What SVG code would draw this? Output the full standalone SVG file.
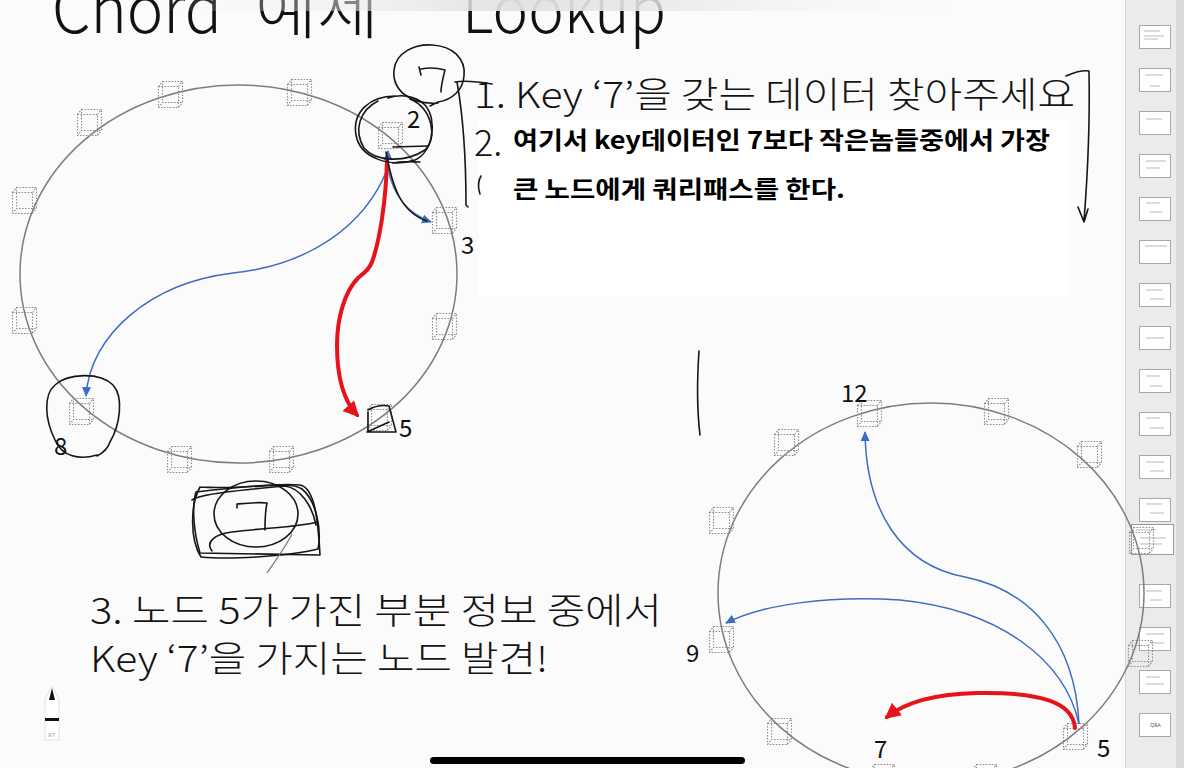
<svg xmlns="http://www.w3.org/2000/svg" width="1184" height="768" viewBox="0 0 1184 768">
<defs>
<style>
.ring{fill:none;stroke:#7d7d7d;stroke-width:1.5}
.cb{fill:none;stroke:#8e8e8e;stroke-width:1.1;stroke-dasharray:1.6 1.4}
.lbl{font-family:"Noto Sans CJK KR","Noto Sans",sans-serif;font-size:24px;fill:#111;font-weight:400}
.blue{fill:none;stroke:#3d6cc0;stroke-width:1.5}
.red{fill:none;stroke:#e8121b;stroke-width:4;stroke-linecap:round}
.ink{fill:none;stroke:#161616;stroke-width:1.6;stroke-linecap:round;stroke-linejoin:round}
.t36{font-family:"Noto Sans CJK KR","Noto Sans",sans-serif;font-size:36px;fill:#141414;font-weight:300}
.tb{font-family:"Noto Sans CJK KR","Noto Sans",sans-serif;font-size:24px;font-weight:700;fill:#000}
.title{font-family:"Noto Sans CJK KR","Noto Sans",sans-serif;font-size:66px;fill:#111;font-weight:300}
.thumb{fill:#fff;stroke:#a8a8a8;stroke-width:1}
.tl{stroke:#b9b9b9;stroke-width:1}
</style>
<linearGradient id="topband" x1="0" x2="1" y1="0" y2="0">
<stop offset="0" stop-color="#f4f4f4" stop-opacity="0"/>
<stop offset="0.45" stop-color="#e2e2e2" stop-opacity="0.95"/>
<stop offset="0.6" stop-color="#e6e6e6" stop-opacity="0.9"/>
<stop offset="1" stop-color="#f4f4f4" stop-opacity="0"/>
</linearGradient>
<symbol id="cube" width="26" height="27" viewBox="0 0 26 27" overflow="visible">
<path class="cb" d="M0.5,5.5h20v21h-20z M4.5,0.5h20v21h-20z M0.5,5.5l4,-5 M20.5,5.5l4,-5 M20.5,26.5l4,-5 M0.5,26.5l4,-5"/>
</symbol>
<marker id="ab" viewBox="0 0 10 10" refX="9" refY="5" markerWidth="10" markerHeight="10" markerUnits="userSpaceOnUse" orient="auto">
<path d="M0,0.5 L10,5 L0,9.5z" fill="#3d6cc0"/>
</marker>
<marker id="ar" viewBox="0 0 10 10" refX="8" refY="5" markerWidth="16" markerHeight="16" markerUnits="userSpaceOnUse" orient="auto">
<path d="M0,0 L10,5 L0,10z" fill="#e8121b"/>
</marker>
</defs>

<rect width="1184" height="768" fill="#fbfbfb"/>

<!-- sidebar -->
<g id="sidebar">
<rect x="1125" y="0" width="59" height="768" fill="#ebebeb"/>
<line x1="1125.5" y1="0" x2="1125.5" y2="768" stroke="#d6d6d6"/>
<rect x="1176" y="0" width="8" height="768" fill="#d9d9d9"/>
<g>
<rect class="thumb" x="1139.5" y="25.5" width="31" height="23"/>
<rect class="thumb" x="1139.5" y="68.5" width="31" height="23"/>
<rect class="thumb" x="1139.5" y="111.5" width="31" height="23"/>
<rect class="thumb" x="1139.5" y="154.5" width="31" height="23"/>
<rect class="thumb" x="1139.5" y="197.5" width="31" height="23"/>
<rect class="thumb" x="1139.5" y="240.5" width="31" height="23"/>
<rect class="thumb" x="1139.5" y="283.5" width="31" height="23"/>
<rect class="thumb" x="1139.5" y="326.5" width="31" height="23"/>
<rect class="thumb" x="1139.5" y="369.5" width="31" height="23"/>
<rect class="thumb" x="1139.5" y="412.5" width="31" height="23"/>
<rect class="thumb" x="1139.5" y="455.5" width="31" height="23"/>
<rect class="thumb" x="1139.5" y="498.5" width="31" height="23"/>
<rect class="thumb" x="1139.5" y="584.5" width="31" height="23"/>
<rect class="thumb" x="1139.5" y="627.5" width="31" height="23"/>
<rect class="thumb" x="1139.5" y="670.5" width="31" height="23"/>
<rect class="thumb" x="1139.5" y="713.5" width="31" height="23"/>
<rect x="1131.5" y="524.5" width="42" height="30" fill="#fff" stroke="#9a9a9a"/>
<path class="tl" d="M1144,31h16 M1144,36h20 M1144,39h14 M1145,75h18 M1150,86h10 M1146,119h16 M1146,161h20 M1146,168h14 M1146,203h14 M1150,212h12 M1145,246h22 M1146,290h16 M1150,299h14 M1146,338h18 M1146,376h14 M1150,386h12 M1146,418h14 M1150,428h14 M1146,462h18 M1150,471h14 M1146,504h16 M1150,513h14 M1136,530h20 M1140,538h26 M1140,544h22 M1146,591h16 M1150,600h12 M1146,634h18 M1150,643h14 M1146,677h14 M1146,684h18"/>
<text x="1150" y="727" font-family="Noto Sans, sans-serif" font-size="5" fill="#555">Q&amp;A</text>
</g>
</g>

<!-- title (cropped at top) -->
<g id="title">
<text class="title" x="52" y="33" textLength="170" lengthAdjust="spacingAndGlyphs">Chord</text>
<text class="title" x="255" y="33" textLength="124" lengthAdjust="spacingAndGlyphs">예제</text>
<text class="title" x="462" y="33" textLength="204" lengthAdjust="spacingAndGlyphs">Lookup</text>
</g>
<rect x="150" y="0" width="800" height="11" fill="url(#topband)"/>

<!-- white text box -->
<rect x="479" y="120" width="589" height="176" fill="#ffffff"/>

<!-- ring 1 -->
<g id="ring-top">
<ellipse class="ring" cx="238.5" cy="274" rx="218.5" ry="189"/>
<g id="n-a"><use href="#cube" x="158" y="81"/></g>
<g id="n-b"><use href="#cube" x="287" y="79"/></g>
<g id="n-c"><use href="#cube" x="77" y="109"/></g>
<g id="node-2"><use href="#cube" x="378" y="122"/><text class="lbl" x="407" y="128">2</text></g>
<g id="n-d"><use href="#cube" x="12" y="187"/></g>
<g id="node-3"><use href="#cube" x="432" y="207"/><text class="lbl" x="461" y="254">3</text></g>
<g id="n-e"><use href="#cube" x="12" y="307"/></g>
<g id="n-f"><use href="#cube" x="432" y="313"/></g>
<g id="node-8"><use href="#cube" x="69" y="398"/><text class="lbl" x="54" y="455">8</text></g>
<g id="node-5a"><use href="#cube" x="367" y="404"/><text class="lbl" x="399" y="437">5</text></g>
<g id="n-g"><use href="#cube" x="167" y="446"/></g>
<g id="n-h"><use href="#cube" x="269" y="446"/></g>
</g>

<!-- ring 2 -->
<g id="ring-bottom">
<ellipse class="ring" cx="931" cy="593" rx="213" ry="190"/>
<g id="node-12"><use href="#cube" x="857" y="400"/><text class="lbl" x="841" y="402">12</text></g>
<g id="n-i"><use href="#cube" x="984" y="398"/></g>
<g id="n-j"><use href="#cube" x="774" y="429"/></g>
<g id="n-k"><use href="#cube" x="1077" y="441"/></g>
<g id="n-l"><use href="#cube" x="709" y="507"/></g>
<g id="n-m"><use href="#cube" x="1129" y="527"/></g>
<g id="node-9"><use href="#cube" x="709" y="626"/><text class="lbl" x="686" y="662">9</text></g>
<g id="n-n"><use href="#cube" x="1128" y="640"/></g>
<g id="n-o"><use href="#cube" x="767" y="718"/></g>
<g id="node-5b"><use href="#cube" x="1063" y="723"/><text class="lbl" x="1097" y="757">5</text></g>
<g id="node-7"><text class="lbl" x="874" y="758">7</text></g>
<g id="n-p"><use href="#cube" x="870" y="764"/></g>
<g id="n-q"><use href="#cube" x="972" y="764"/></g>
</g>

<!-- connectors -->
<g id="connectors">
<path class="blue" d="M387,170 C365,225 310,265 233,273 C150,283 90,335 86,396" marker-end="url(#ab)"/>
<path class="blue" d="M388,168 C393,195 408,214 431,222" marker-end="url(#ab)"/>
<path class="blue" d="M388,172 L388,151" marker-end="url(#ab)"/>
<path class="red" d="M387,160 C386,200 380,240 372,262 C369,270 364,273 358,278 C344,292 337,320 337,345 C337,378 343,400 357,415" marker-end="url(#ar)"/>
<path class="blue" d="M1079,724 C1075,640 1030,590 965,577 C900,565 866,510 865,432" marker-end="url(#ab)"/>
<path class="blue" d="M1079,724 C1065,660 1000,610 900,600 C830,595 760,605 726,623" marker-end="url(#ab)"/>
<path class="red" d="M1075,728 C1073,702 1040,692 977,693 C930,694 902,705 887,717" stroke-width="5" marker-end="url(#ar)"/>
</g>

<!-- handwritten annotations -->
<g id="annotations">
<path class="ink" d="M438,103 C410,105 392,90 394,70 C396,52 415,44 432,45 C452,46 466,58 464,76 C463,90 452,100 438,102 L430,106"/>
<path class="ink" d="M419,67 L421,75 M421,69 C430,67 438,68 445,70 C443,78 441,85 441,92"/>
<path class="ink" d="M455,82 C466,80 480,82 492,84"/>
<path class="ink" d="M457,82 C462,110 466,150 466,205 L468,207"/>
<path class="ink" d="M395,96 C370,96 352,112 356,135 C360,158 390,168 415,160 C433,152 438,120 425,105 C415,95 400,94 388,98"/>
<path class="ink" d="M378,101 C360,110 353,130 364,148 C376,162 405,163 425,150 C438,138 432,108 410,99"/>
<path class="ink" d="M393,147 L428,146 M393,163 C402,161 412,162 420,162"/>
<path class="ink" d="M386,152 C392,185 400,212 427,221"/>
<path class="ink" d="M97,455 C80,460 62,457 55,440 C45,420 43,395 55,385 C68,373 100,372 113,385 C124,397 120,425 110,442 C108,448 103,453 97,456"/>
<path class="ink" d="M368,410 C375,406 383,405 389,406 L396,432 L368,432 L368,412 M367,432 L389,422"/>
<path class="ink" d="M196,492 C230,488 280,483 300,485 C315,488 318,520 320,555 L200,553 C193,530 192,505 196,492 Z"/>
<path class="ink" d="M200,487 C250,490 290,480 302,489 C316,500 322,530 318,549 C290,556 230,560 201,557 C190,540 190,505 200,487"/>
<path class="ink" d="M192,500 C200,494 240,490 285,486 C300,488 312,505 316,525"/>
<path class="ink" d="M212,551 C205,542 215,534 232,532 C262,528 300,527 318,522"/>
<ellipse class="ink" cx="256" cy="514" rx="42" ry="33"/>
<path class="ink" d="M237,508 L237,504 C248,503 258,502 267,503 C265,512 265,522 265,530"/>
<path d="M267,573 C276,560 286,546 292,534" fill="none" stroke="#777" stroke-width="1.2"/>
<path class="ink" d="M481,176 C478,181 478,188 480,194"/>
<path class="ink" d="M1066,76 C1075,72 1082,70 1089,71 C1090,120 1088,170 1084,221 M1078,207 L1084,222 L1088,209"/>
<path class="ink" d="M699,351 C697,380 697,410 700,435"/>
</g>

<!-- texts -->
<g id="texts">
<text class="t36" x="474" y="108" textLength="601" lengthAdjust="spacingAndGlyphs">1. Key ‘7’을 갖는 데이터 찾아주세요</text>
<text class="t36" x="474" y="156">2.</text>
<text class="tb" x="513" y="149" textLength="537" lengthAdjust="spacingAndGlyphs">여기서 key데이터인 7보다 작은놈들중에서 가장</text>
<text class="tb" x="513" y="198" textLength="332" lengthAdjust="spacingAndGlyphs">큰 노드에게 쿼리패스를 한다.</text>
<text class="t36" x="90" y="624" textLength="572" lengthAdjust="spacingAndGlyphs">3. 노드 5가 가진 부분 정보 중에서</text>
<text class="t36" x="90" y="672" textLength="458" lengthAdjust="spacingAndGlyphs">Key ‘7’을 가지는 노드 발견!</text>
</g>

<!-- pencil icon -->
<g id="pencil">
<path d="M45,700 L52,686 L59,700 L59,740 L45,740 Z" fill="#fff" stroke="#e2e2e2"/>
<path d="M49,700 L52,688 L55,700 Z" fill="#111"/>
<rect x="45" y="718" width="14" height="3" fill="#111"/>
<text x="48" y="737" font-family="Noto Sans, sans-serif" font-size="6" fill="#999">97</text>
</g>

<rect id="home-indicator" x="430" y="757" width="315" height="7" rx="3.5" fill="#000"/>
</svg>
